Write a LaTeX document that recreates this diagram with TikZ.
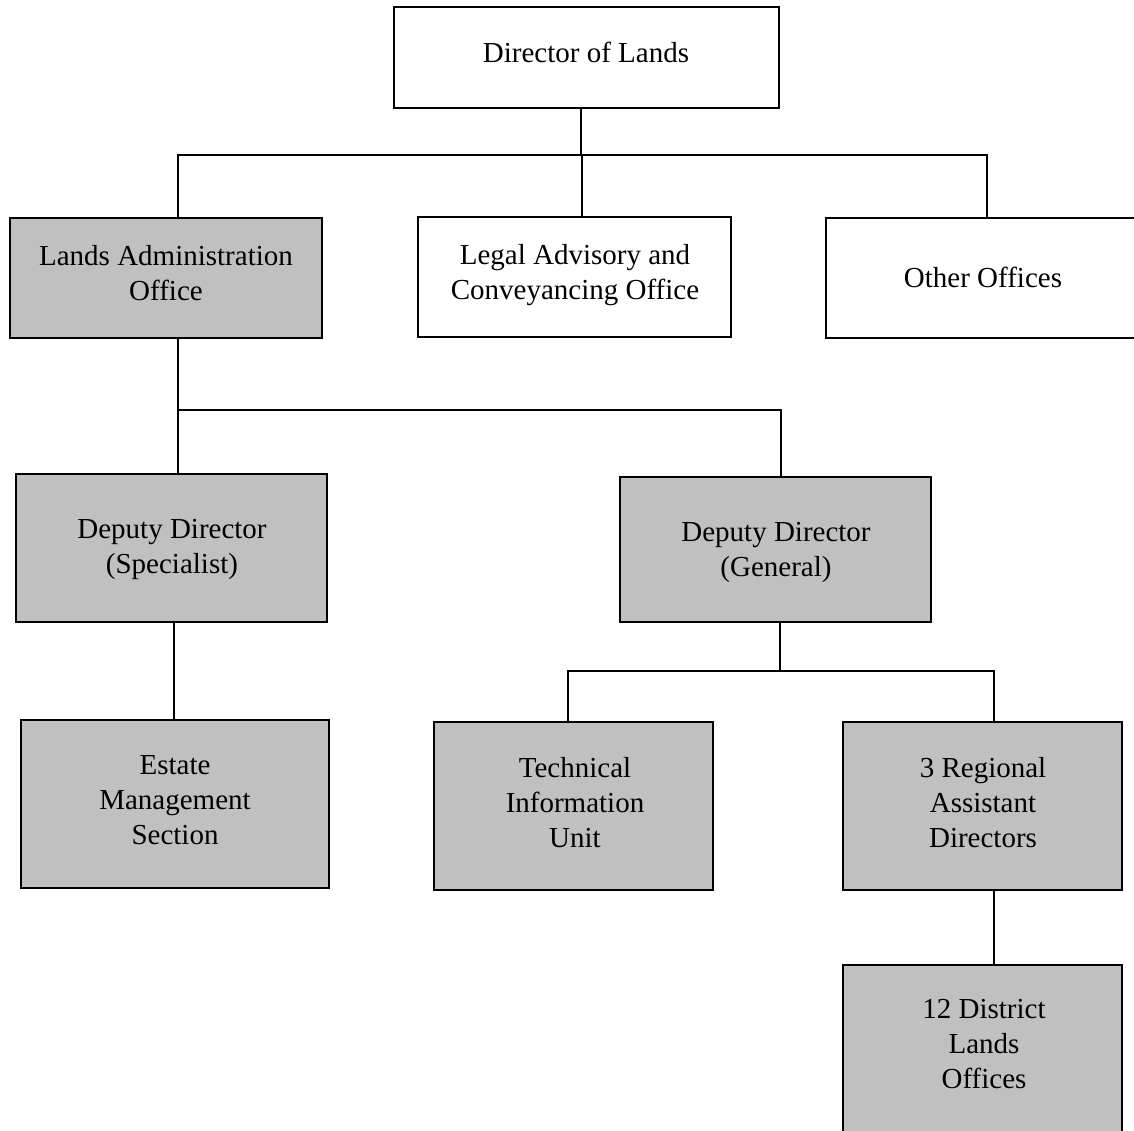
\documentclass[tikz,border=0pt]{standalone}
\usepackage{fontspec}
\setmainfont{Liberation Serif}
\definecolor{boxgray}{HTML}{C0C0C0}
\begin{document}
\begin{tikzpicture}[x=1pt,y=-1pt,
  box/.style={draw=black,line width=1.6pt,inner sep=0pt,rectangle},
  grey/.style={box,fill=boxgray},
  white/.style={box,fill=white},
  lbl/.style={anchor=base,align=center,inner sep=0pt,font=\fontsize{29}{35}\selectfont},
  conn/.style={draw=black,line width=1.6pt}]
\useasboundingbox (0,0) rectangle (1134,1130);
\clip (0,0) rectangle (1134,1130);
% boxes
\node[white,minimum width=385pt,minimum height=101pt] (dir) at (586.5,57.5) {};
\node[grey,minimum width=312pt,minimum height=120pt] (admin) at (166,278) {};
\node[white,minimum width=313pt,minimum height=120pt] (legal) at (574.5,277) {};
\node[white,minimum width=314pt,minimum height=120pt] (other) at (983,278) {};
\node[grey,minimum width=311pt,minimum height=148pt] (dspec) at (171.5,548) {};
\node[grey,minimum width=311pt,minimum height=145pt] (dgen) at (775.5,549.5) {};
\node[grey,minimum width=308pt,minimum height=168pt] (estate) at (175,804) {};
\node[grey,minimum width=279pt,minimum height=168pt] (tech) at (573.5,806) {};
\node[grey,minimum width=279pt,minimum height=168pt] (reg) at (982.5,806) {};
\node[grey,minimum width=279pt,minimum height=170pt] (dist) at (982.5,1050) {};
% labels (anchor = baseline of the last line)
\node[lbl] (tdir) at (586,62) {Director of Lands};
\node[lbl] (tadmin) at (166,300) {Lands Administration\\Office};
\node[lbl] (tlegal) at (575,299) {Legal Advisory and\\Conveyancing Office};
\node[lbl] (tother) at (983,287) {Other Offices};
\node[lbl] (tdspec) at (172,573) {Deputy Director\\(Specialist)};
\node[lbl] (tdgen) at (776,576) {Deputy Director\\(General)};
\node[lbl] (testate) at (175,844) {Estate\\Management\\Section};
\node[lbl] (ttech) at (575,847) {Technical\\Information\\Unit};
\node[lbl] (treg) at (983,847) {3 Regional\\Assistant\\Directors};
\node[lbl] (tdist) at (984,1088) {12 District\\Lands\\Offices};
% connector anchor points
\coordinate (dirB) at ([xshift=-5.5pt]dir.south);
\coordinate (admT) at ([xshift=12pt]admin.north);
\coordinate (admB) at ([xshift=12pt]admin.south);
\coordinate (legT) at ([xshift=7.5pt]legal.north);
\coordinate (othT) at ([xshift=4pt]other.north);
\coordinate (dspT) at ([xshift=6.5pt]dspec.north);
\coordinate (dspB) at ([xshift=2.5pt]dspec.south);
\coordinate (dgnT) at ([xshift=5.5pt]dgen.north);
\coordinate (dgnB) at ([xshift=4.5pt]dgen.south);
\coordinate (tecT) at ([xshift=-5.5pt]tech.north);
\coordinate (regT) at ([xshift=11.5pt]reg.north);
\coordinate (regB) at ([xshift=11.5pt]reg.south);
\coordinate (bus1) at (0,155);
\coordinate (bus2) at (0,410);
\coordinate (bus3) at (0,671);
% connectors
\draw[conn] (dirB) -- (dirB |- bus1);
\draw[conn] (admT) |- (othT |- bus1) -- (othT);
\draw[conn] (legT |- bus1) -- (legT);
\draw[conn] (admB) -- (admB |- bus2) -| (dgnT);
\draw[conn] (dspT |- bus2) -- (dspT);
\draw[conn] (dspB) -- (dspB |- estate.north);
\draw[conn] (dgnB) -- (dgnB |- bus3);
\draw[conn] (tecT) |- (regT |- bus3) -- (regT);
\draw[conn] (regB) -- (regB |- dist.north);
\end{tikzpicture}
\end{document}
